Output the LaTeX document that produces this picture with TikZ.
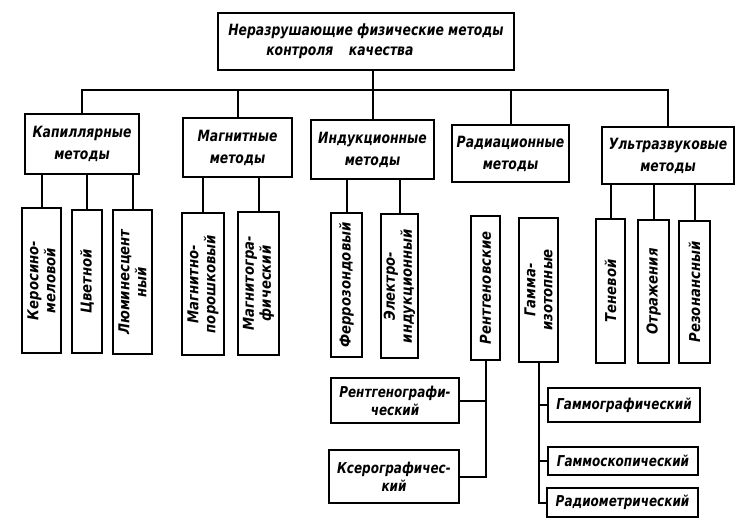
\documentclass[tikz,border=0pt]{standalone}
\usepackage{fontspec}
\setmainfont{DejaVu Sans}[FakeStretch=0.8]
\newfontfamily\vfont{DejaVu Sans}[FakeStretch=0.88]
\begin{document}
\begin{tikzpicture}[x=1pt,y=-1pt,
  box/.style={draw, line width=2pt, inner sep=0pt, align=center,
    font=\bfseries\itshape\fontsize{15.5}{22}\selectfont},
  topbox/.style={box, font=\bfseries\itshape\fontsize{15.5}{20}\selectfont},
  vbox/.style={box, rotate=90, font=\vfont\bfseries\itshape\fontsize{15}{17}\selectfont},
  hbox/.style={box, font=\bfseries\itshape\fontsize{15}{18}\selectfont},
  link/.style={line width=2pt}]
\useasboundingbox (0,0) rectangle (752,524);
% top
\node[topbox, minimum width=296, minimum height=57, align=left] (top) at (366,41.5)
  {Неразрушающие физические методы\\\hspace*{38pt}контроля\quad качества};
% level 1
\node[box, minimum width=114, minimum height=60] (kap) at (82,144) {Капиллярные\\методы};
\node[box, minimum width=109, minimum height=59] (mag) at (237.5,147.5) {Магнитные\\методы};
\node[box, minimum width=123, minimum height=59] (ind) at (372.5,149.5) {Индукционные\\методы};
\node[box, minimum width=117, minimum height=57] (rad) at (510.5,153.5) {Радиационные\\методы};
\node[box, minimum width=132, minimum height=57] (ult) at (668,155.5) {Ультразвуковые\\методы};
% level 2
\node[vbox, minimum width=145, minimum height=39] (kero) at (41.5,280.5) {Керосино-\\меловой};
\node[vbox, minimum width=143, minimum height=30] (cvet) at (87,281.5) {Цветной};
\node[vbox, minimum width=144, minimum height=39] (lum) at (132.5,282) {Люминесцент\\ный};
\node[vbox, minimum width=142, minimum height=42] (magpor) at (203,284) {Магнитно-\\порошковый};
\node[vbox, minimum width=143, minimum height=41] (maggr) at (258.5,283.5) {Магнитогра-\\фический};
\node[vbox, minimum width=144, minimum height=31] (ferro) at (346.5,285) {Феррозондовый};
\node[vbox, minimum width=144, minimum height=37] (elektro) at (399.5,286) {Электро-\\индукционный};
\node[vbox, minimum width=144, minimum height=29] (rent) at (485.5,288) {Рентгеновские};
\node[vbox, minimum width=144, minimum height=39] (gamma) at (538.5,290) {Гамма-\\изотопные};
\node[vbox, minimum width=144, minimum height=29] (ten) at (610.5,291) {Теневой};
\node[vbox, minimum width=143, minimum height=31] (otr) at (653.5,291.5) {Отражения};
\node[vbox, minimum width=142, minimum height=31] (rez) at (694.5,292) {Резонансный};
% level 3
\node[hbox, minimum width=128, minimum height=45] (rentgr) at (395,400.5) {Рентгенографи-\\ческий};
\node[hbox, minimum width=130, minimum height=53] (xero) at (394,476.5) {Ксерографичес-\\кий};
\node[hbox, minimum width=152, minimum height=34] (gammogr) at (624,405) {Гаммографический};
\node[hbox, minimum width=150, minimum height=28] (gammosk) at (623,461) {Гаммоскопический};
\node[hbox, minimum width=151, minimum height=29] (radiom) at (622.5,502.5) {Радиометрический};
% connectors
\coordinate (bus) at (0,90);
\draw[link] (top.south -| ind.north) -- (ind.north);
\draw[link] (kap.north) -- (kap.north |- bus) -- (ult.north |- bus) -- (ult.north);
\draw[link] (mag.north |- bus) -- (mag.north);
\draw[link] (rad.north |- bus) -- (rad.north);
\draw[link] (kap.south -| kero.east) -- (kero.east);
\draw[link] (kap.south -| cvet.east) -- (cvet.east);
\draw[link] (kap.south -| lum.east) -- (lum.east);
\draw[link] (mag.south -| magpor.east) -- (magpor.east);
\draw[link] (mag.south -| maggr.east) -- (maggr.east);
\draw[link] (ind.south -| ferro.east) -- (ferro.east);
\draw[link] (ind.south -| elektro.east) -- (elektro.east);
\draw[link] (ult.south -| ten.east) -- (ten.east);
\draw[link] (ult.south -| otr.east) -- (otr.east);
\draw[link] (ult.south -| rez.east) -- (rez.east);
\draw[link] (rent.west) -- (rent.west |- xero.east) -- (xero.east);
\draw[link] (rentgr.east) -- (rentgr.east -| rent.west);
\draw[link] (gamma.west) -- (gamma.west |- radiom.west) -- (radiom.west);
\draw[link] (gammogr.west) -- (gammogr.west -| gamma.west);
\draw[link] (gammosk.west) -- (gammosk.west -| gamma.west);
\end{tikzpicture}
\end{document}
